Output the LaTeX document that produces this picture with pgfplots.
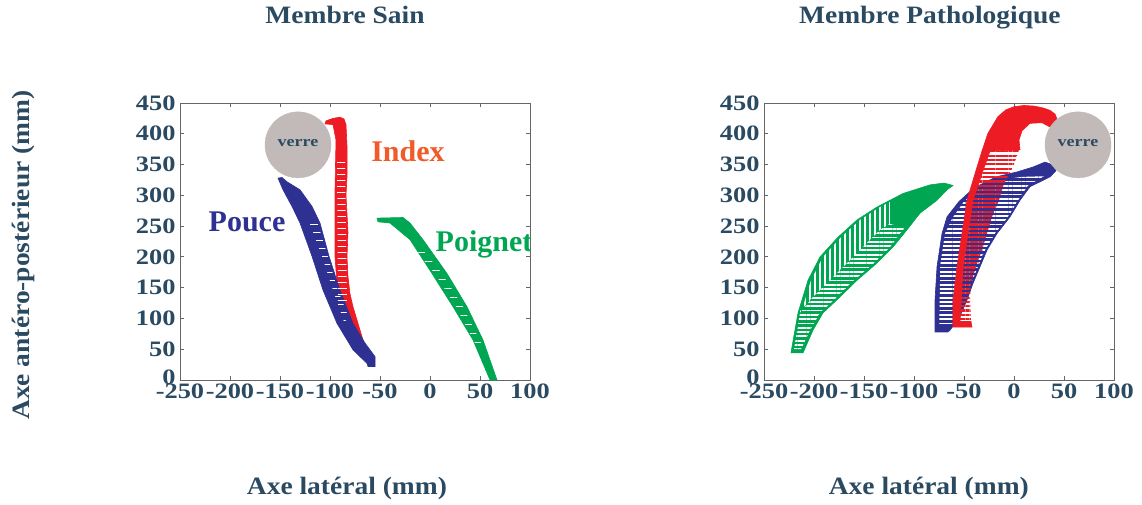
\documentclass[border=0pt]{standalone}
\usepackage{fontspec}
\setmainfont{Liberation Serif}
\newfontfamily\labfont{Liberation Serif}[FakeStretch=1.1]
\newfontfamily\tickfont{Liberation Serif}[FakeStretch=1.2]
\newfontfamily\wordfont{Liberation Serif}[FakeStretch=1.0]
\usepackage{pgfplots}
\pgfplotsset{compat=1.18}
\usetikzlibrary{patterns.meta}
\definecolor{txt}{RGB}{42,74,98}
\definecolor{myred}{RGB}{237,28,36}
\definecolor{myblue}{RGB}{46,49,146}
\definecolor{mygreen}{RGB}{0,166,81}
\definecolor{idx}{RGB}{241,90,41}
\definecolor{verrec}{RGB}{194,186,184}
\pgfplotsset{
  base/.style={
    scale only axis, width=350pt, height=277pt,
    xmin=-250, xmax=100, ymin=0, ymax=450,
    xtick={-250,-200,-150,-100,-50,0,50,100},
    xticklabels={-250,-200,-150,-100,-50,0,50,100},
    ytick={0,50,100,150,200,250,300,350,400,450},
    yticklabels={\raisebox{6pt}{0},50,100,150,200,250,300,350,400,450},
    tick align=inside, major tick length=4pt,
    tick style={black!60, line width=0.8pt},
    axis line style={black!60, line width=0.9pt},
    tick label style={font=\tickfont\bfseries\fontsize{22}{22}\selectfont, text=txt},
    yticklabel style={xshift=-1pt},
    label style={font=\labfont\bfseries\fontsize{25}{25}\selectfont, text=txt},
    title style={font=\labfont\bfseries\fontsize{25}{25}\selectfont, text=txt, anchor=base},
  },
  band/.style={draw=#1, fill=#1, line width=0.6pt},
  hatch/.style args={#1/#2}{draw=none, pattern={Lines[distance=#1, line width=#2]}, pattern color=white},
  vhatch/.style args={#1/#2}{draw=none, pattern={Lines[distance=#1, angle=90, line width=#2]}, pattern color=white},
  clines/.style={draw=none, pattern={Lines[distance=4.3pt, line width=2.1pt]}, pattern color=#1},
  verre/.style={only marks, mark=*, mark size=33pt, mark options={fill=verrec, draw=verrec},
    nodes near coords={verre},
    every node near coord/.style={anchor=center, yshift=2pt, font=\tickfont\bfseries\fontsize{15}{15}\selectfont, text=txt}},
}
\begin{document}
\begin{tikzpicture}
\useasboundingbox (0,0) rectangle (1142pt,504pt);
% ---------------- Membre Sain ----------------
\begin{axis}[base, at={(180pt,124pt)}, anchor=south west,
  title={Membre Sain}, title style={at={(axis description cs:0.4714,1.267)}},
  xlabel={Axe latéral (mm)}, xlabel style={at={(axis description cs:0.477,-0.415)}, anchor=base},
  ylabel={Axe antéro-postérieur (mm)}, ylabel style={at={(axis description cs:-0.447,0.451)}, anchor=center, rotate=0}]
% verre
\addplot[verre] coordinates {(-132,382)};
% Index
\addplot[band=myred] coordinates {(-72,49) (-80,65) (-87,92) (-92,119) (-93,157) (-95,200) (-95,260) (-95,309) (-94,390) (-97,415) (-105,416) (-104,421) (-97,425) (-90,427) (-86,424) (-84,415) (-83,380) (-83,330) (-84,300) (-83,270) (-82,240) (-83,200) (-82,168) (-80,140) (-77,119) (-72,92) (-67,65) (-66,52) (-69,47)} --cycle;
% Pouce
\addplot[band=myblue] coordinates {(-152,328) (-147,309) (-138,282) (-130,255) (-118,201) (-107,146) (-93,92) (-77,49) (-63,27) (-62,22) (-55,22) (-55,38) (-65,60) (-77,92) (-90,146) (-101,201) (-110,255) (-118,282) (-130,309) (-143,322) (-148,329)} --cycle;
% Poignet
\addplot[band=mygreen] coordinates {(-53,263) (-27,264) (-20,255) (-7,228) (17,173) (37,119) (53,65) (67,0) (60,0) (43,65) (23,119) (2,173) (-20,228) (-40,255) (-52,257)} --cycle;
% hatching
\addplot[hatch=6pt/0.9pt] coordinates {(-92,125) (-93,360) (-85,360) (-83,125)} --cycle;
\addplot[hatch=8pt/0.9pt] coordinates {(-121,258) (-113,258) (-103,205) (-93,150) (-81,100) (-86,95) (-97,146) (-108,201)} --cycle;
\addplot[hatch=9pt/0.9pt] coordinates {(-17,215) (-9,215) (12,173) (33,119) (51,60) (45,60) (26,119) (5,173)} --cycle;
% labels
\node[font=\wordfont\bfseries\fontsize{30}{30}\selectfont, text=idx] at (axis cs:-22,371) {Index};
\node[font=\wordfont\bfseries\fontsize{30}{30}\selectfont, text=myblue] at (axis cs:-183,257) {Pouce};
\node[font=\wordfont\bfseries\fontsize{30}{30}\selectfont, text=mygreen] at (axis cs:54,220) {Poignet};
\end{axis}
% ---------------- Membre Pathologique ----------------
\begin{axis}[base, at={(764pt,124pt)}, anchor=south west,
  title={Membre Pathologique}, title style={at={(axis description cs:0.474,1.267)}},
  xlabel={Axe latéral (mm)}, xlabel style={at={(axis description cs:0.471,-0.415)}, anchor=base}]
% Pouce (blue)
\addplot[band=myblue] coordinates {(-79,78) (-79,130) (-77,184) (-72,238) (-67,265) (-55,290) (-40,312) (-18,330) (3,338) (19,346) (31,354) (38,350) (42,340) (36,330) (16,314) (6,292) (-4,265) (-17,238) (-27,211) (-34,184) (-41,157) (-47,130) (-55,100) (-64,81) (-66,78)} --cycle;
\addplot[hatch=4.3pt/1.8pt] coordinates {(-75,90) (-74,184) (-69,238) (-62,262) (-50,290) (-35,310) (-15,325) (8,330) (30,331) (14,316) (4,292) (-6,265) (-19,238) (-29,211) (-36,184) (-43,157) (-49,130) (-57,100) (-62,90)} --cycle;
% Index (red): hatched part as red lines, then solid parts
\addplot[clines=myred] coordinates {(-54,95) (-51,184) (-46,238) (-41,292) (-31,340) (-24,372) (5,374) (-1,346) (-10,319) (-15,292) (-22,265) (-27,238) (-32,211) (-38,184) (-43,157) (-44,130) (-43,95)} --cycle;
\addplot[band=myred] coordinates {(-61,86) (-61,130) (-57,184) (-52,238) (-47,292) (-37,346) (-32,372) (-24,372) (-31,340) (-41,292) (-46,238) (-51,184) (-54,95) (-43,95) (-42,86)} --cycle;
\addplot[band=myred] coordinates {(-32,372) (-26,401) (-16,428) (-8,439) (0,444) (10,446) (20,445) (29,442) (36,438) (41,432) (43,424) (40,416) (36,411) (28,418) (16,417) (8,405) (5,390) (6,374) (-24,372)} --cycle;
% Poignet (green)
\addplot[band=mygreen] coordinates {(-223,44) (-222,54) (-216,109) (-206,162) (-194,200) (-176,232) (-157,260) (-137,281) (-111,303) (-84,317) (-70,320) (-61,316) (-67,309) (-77,292) (-94,271) (-107,244) (-121,216) (-137,190) (-157,162) (-174,135) (-191,109) (-201,81) (-211,44)} --cycle;
\addplot[vhatch=5pt/2pt] coordinates {(-213,109) (-203,162) (-191,200) (-173,232) (-154,260) (-134,281) (-124,289) (-124,254) (-134,244) (-151,216) (-167,190) (-184,162) (-201,135) (-214,112)} --cycle;
\addplot[hatch=4.3pt/1.8pt] coordinates {(-220,50) (-214,109) (-201,135) (-184,162) (-167,190) (-151,216) (-134,244) (-124,254) (-110,246) (-124,216) (-140,190) (-160,162) (-177,135) (-194,109) (-204,81) (-213,50)} --cycle;
% verre
\addplot[verre] coordinates {(64,382)};
\end{axis}
\end{tikzpicture}
\end{document}
